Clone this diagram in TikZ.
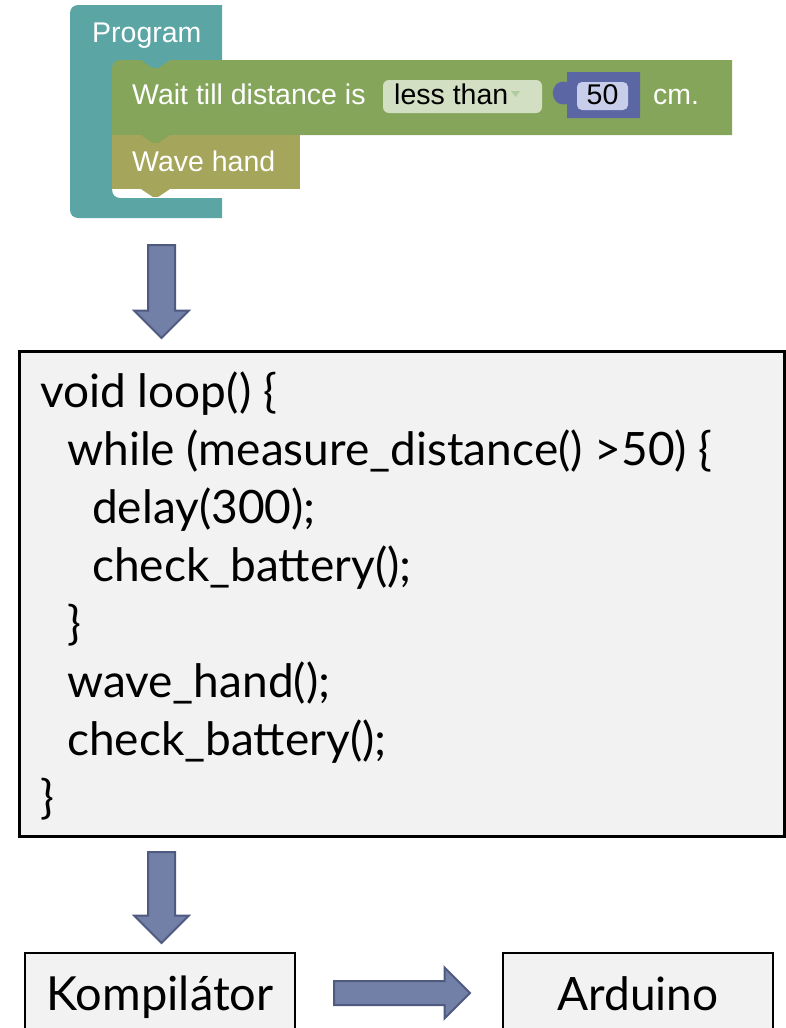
\documentclass[tikz,border=0pt]{standalone}
\usepackage{fontspec}
\setmainfont{Lato}
\newfontfamily\blockfont{Liberation Sans}
\usetikzlibrary{shapes.arrows}

\definecolor{progcol}{RGB}{91,165,165}
\definecolor{waitcol}{RGB}{133,165,91}
\definecolor{wavecol}{RGB}{165,165,91}
\definecolor{numcol}{RGB}{91,103,165}
\definecolor{pillcol}{RGB}{210,223,194}
\definecolor{pillarrow}{RGB}{176,204,160}
\definecolor{numpill}{RGB}{200,205,233}
\definecolor{codebg}{RGB}{242,242,242}
\definecolor{arrowfill}{RGB}{114,127,166}
\definecolor{arrowdraw}{RGB}{78,90,128}

\tikzset{
  codetext/.style={anchor=base west, inner sep=0, font=\fontsize{46bp}{58bp}\selectfont},
  blocktext/.style={anchor=base west, inner sep=0, text=white, font=\blockfont\fontsize{28.5bp}{34bp}\selectfont},
  plainbox/.style={draw=black, fill=codebg, line width=2.5bp, inner sep=0},
  bigarrow/.style={single arrow, draw=arrowdraw, fill=arrowfill, line width=2bp, inner xsep=0, anchor=tail}
}
\newcommand{\codeline}[4]{ \node[codetext] (#1) at (#2,#3) {#4};}
\newcommand{\blocknotch}[3]{ \fill[#3] (#1,#2) -- ++(11.6,7.8) -- ++(5.8,0) -- ++(11.6,-7.8) -- cycle;}

\begin{document}
\begin{tikzpicture}[x=1bp,y=-1bp]
        \useasboundingbox (0,0) rectangle (786,1028);

        % blockly program
        \fill[progcol] (78,5) -- (222,5) -- (222,60) -- (112,60) -- (112,198) -- (222,198) -- (222,218) -- (78,218) arc[start angle=90,end angle=180,radius=8] -- (70,13) arc[start angle=180,end angle=270,radius=8] -- cycle;
        \fill[progcol] (112,60) rectangle (120,68);
        \fill[progcol] (112,198) -- (120,198) arc[start angle=90,end angle=180,radius=8] -- cycle;
        \fill[waitcol] (112,68) arc[start angle=180,end angle=270,radius=8] -- (732,60) -- (732,135) -- (112,135) -- cycle;
        \blocknotch{141}{60}{progcol}
        \fill[wavecol] (112,135) rectangle (300,189);
        \blocknotch{141}{135}{waitcol}
        \blocknotch{141}{189}{wavecol}

        \fill[pillcol, rounded corners=6] (383,80) rectangle (542,113);
        \fill[pillarrow] (511,91) -- (520,91) -- (515.5,97) -- cycle;
        \fill[numcol] (567,72) -- (640,72) -- (640,118) -- (567,118) -- (567,104) .. controls (548,108) and (548,78) .. (567,82) -- cycle;
        \fill[numpill, rounded corners=5] (577,82) rectangle (628,110);

        \node[blocktext] (prog) at (92,42) {Program};
        \node[blocktext] (wait) at (132,104) {Wait till distance is};
        \node[blocktext, text=black] (less) at (394,104) {less than};
        \node[blocktext, text=black, anchor=base] (num) at (602.5,104) {50};
        \node[blocktext] (cm) at (653,104) {cm.};
        \node[blocktext] (wave) at (132,171) {Wave hand};

        % generated code
        \node[bigarrow, rotate=-90, inner ysep=12.5bp, single arrow head extend=14bp, minimum height=93bp] (arr1) at (161.5,244) {};
        \node[plainbox, line width=3bp, minimum width=765bp, minimum height=485bp, anchor=north west] (code) at (18,350) {};
        \codeline{c1}{40}{407}{void loop() \{}
        \codeline{c2}{67}{465}{while (measure\_distance() >50) \{}
        \codeline{c3}{92}{523}{delay(300);}
        \codeline{c4}{92}{581}{check\_battery();}
        \codeline{c5}{67}{639}{\}}
        \codeline{c6}{67}{697}{wave\_hand();}
        \codeline{c7}{67}{755}{check\_battery();}
        \codeline{c8}{40}{813}{\}}

        % compiler and board
        \node[bigarrow, rotate=-90, inner ysep=12.5bp, single arrow head extend=14bp, minimum height=91bp] (arr2) at (161.5,851) {};
        \node[plainbox, minimum width=270bp, minimum height=92bp, text height=32bp, text depth=10bp, font=\fontsize{47bp}{58bp}\selectfont] (comp) at (160,999) {Kompilátor};
        \node[bigarrow, inner ysep=11bp, single arrow head extend=13.5bp, minimum height=136bp] (arr3) at (333,993) {};
        \node[plainbox, minimum width=270bp, minimum height=92bp, text height=32bp, text depth=10bp, font=\fontsize{46bp}{58bp}\selectfont] (board) at (638,999) {Arduino};
\end{tikzpicture}
\end{document}
